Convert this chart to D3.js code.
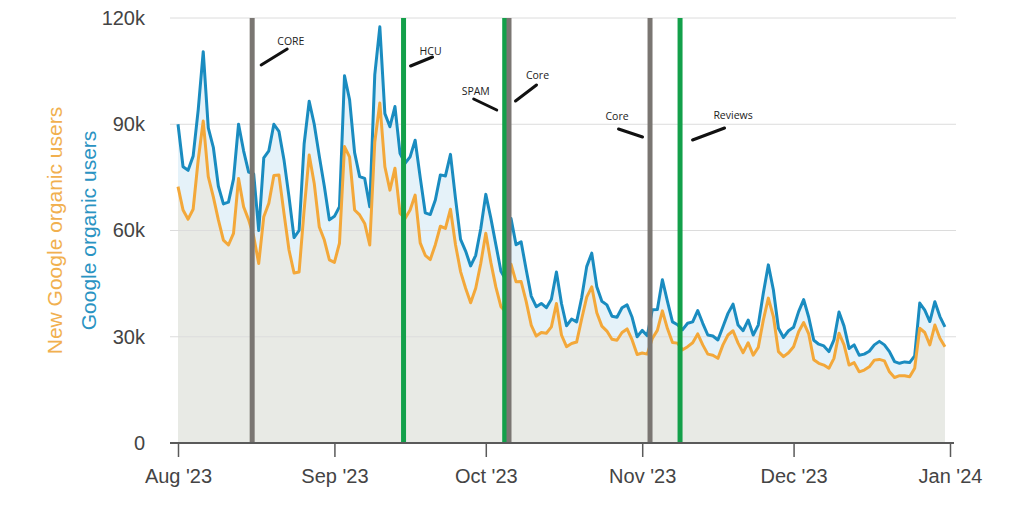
<!DOCTYPE html>
<html>
<head>
<meta charset="utf-8">
<script src="https://cdn.jsdelivr.net/npm/d3@7"></script>
<style>
  html, body { margin: 0; padding: 0; background: #fff; }
  svg { display: block; }
</style>
</head>
<body>
<svg id="chart" width="1024" height="512"></svg>
<script>
// ---------- DATA ----------
const startDate = Date.UTC(2023, 7, 1);   // Aug 1 2023
const endDate = Date.UTC(2024, 0, 1);     // Jan 1 2024

// Google organic users (daily, Aug 1 – Dec 31 2023)
const googleOrganicUsers = [
  90000, 78000, 77000, 81000, 94000, 110500, 89000, 83500, 72500, 67500,
  68000, 74500, 90000, 82500, 76500, 76000, 60000, 80500, 82500, 90000,
  88000, 80000, 69500, 58000, 60000, 84500, 96500, 90000, 81000, 72500,
  63000, 64000, 66700, 103700, 97000, 82000, 75200, 74700, 66700, 104000,
  117500, 93000, 89300, 95000, 81800, 79000, 80800, 85500, 75000, 65000,
  64500, 68600, 75700, 75400, 81500, 69000, 57500, 54200, 50000, 53000,
  60500, 70200, 63500, 56000, 48500, 46000, 63400, 56000, 56800, 49000,
  41500, 38500, 39400, 38200, 40600, 48300, 39400, 33100, 35000, 34200,
  41000, 49800, 53600, 44100, 40000, 39000, 35800, 35500, 38200, 39000,
  35500, 30000, 31800, 30300, 37600, 37700, 46100, 40000, 34200, 33400,
  32000, 33800, 34200, 37400, 33800, 30500, 30200, 29100, 32800, 36600,
  39200, 33300, 31700, 34700, 30500, 33300, 42300, 50300, 43200, 32400,
  29800, 31700, 32700, 37100, 40500, 35500, 29000, 27900, 27400, 25800,
  29100, 37000, 33000, 26700, 27700, 24800, 25100, 25900, 27700, 28700,
  27700, 25800, 23000, 22500, 22900, 22700, 24600, 39500, 37500, 34300,
  39900, 35700, 32800
];

// New Google organic users (daily, Aug 1 – Dec 31 2023)
const newGoogleOrganicUsers = [
  72400, 65800, 63200, 66000, 79900, 90900, 75200, 69500, 63000, 57300,
  55900, 59200, 74700, 66700, 63000, 58300, 50700, 63900, 67700, 75500,
  75700, 64900, 54500, 48000, 48300, 65800, 81300, 73300, 61000, 57300,
  51700, 51000, 56400, 83700, 80800, 65800, 64400, 62000, 55900, 85000,
  96000, 78000, 71400, 77600, 64900, 63400, 65800, 70000, 56500, 53000,
  51800, 56000, 61200, 60600, 66000, 56000, 48400, 43700, 39600, 43700,
  50700, 59200, 51000, 44000, 38500, 37000, 50500, 45500, 45600, 40000,
  33300, 30200, 31200, 31000, 32800, 39400, 30500, 27200, 28100, 28500,
  35000, 41200, 44100, 36800, 33000, 31600, 29300, 29000, 31200, 32200,
  29100, 25000, 25400, 25100, 29500, 31800, 37300, 32300, 28400, 28200,
  26300, 27200, 28300, 30800, 27700, 25100, 24800, 23900, 27700, 30500,
  31700, 28200, 25500, 28300, 24800, 27000, 34700, 40900, 35700, 25800,
  24400, 25500, 27200, 31400, 34000, 30800, 23500, 22500, 22000, 21100,
  23900, 31000, 27700, 22000, 22700, 20100, 20600, 21500, 23400, 23600,
  23200, 20100, 18500, 19000, 19000, 18700, 21100, 32400, 31200, 27700,
  33300, 29600, 27200
];

const yTickValues = [0, 30000, 60000, 90000, 120000];
const yTickLabels = ["0", "30k", "60k", "90k", "120k"];
const xTickDates = [
  Date.UTC(2023, 7, 1), Date.UTC(2023, 8, 1), Date.UTC(2023, 9, 1),
  Date.UTC(2023, 10, 1), Date.UTC(2023, 11, 1), Date.UTC(2024, 0, 1)
];
const xTickLabels = ["Aug '23", "Sep '23", "Oct '23", "Nov '23", "Dec '23", "Jan '24"];

// Algorithm update markers (position in days after Aug 1)
const updateLabels = ["CORE", "HCU", "SPAM", "Core", "Core", "Reviews"];
const updateDays = [14.7, 44.7, 64.75, 65.6, 93.55, 99.5];
const updateKinds = ["core", "green", "green", "core", "core", "green"];

// ---------- LAYOUT / STYLE ----------
const W = 1024, H = 512;
const xRange = [178, 950];
const yRange = [443, 18];
const gridX = [170, 956];
const colors = {
  blue: "#1a8cc0", orange: "#f3a83a",
  blueArea: "#e5f2f9", orangeArea: "#e8eae5",
  grid: "#dcdcdc", axis: "#5a5a5a", text: "#444",
  core: "#7a7672", green: "#13a04a",
  titleOrange: "#f1b04f", titleBlue: "#2a93c2"
};
// label layout relative to each marker line: text centre dx, text baseline y, stroke dx1,y1,dx2,y2
const labelLayout = [
  { tdx: 38.7, ty: 45, x1: 9, y1: 65, x2: 35, y2: 49 },
  { tdx: 27, ty: 55, x1: 7, y1: 66, x2: 29, y2: 57 },
  { tdx: -29, ty: 94.5, x1: -31, y1: 99, x2: -8, y2: 110 },
  { tdx: 28.5, ty: 79, x1: 6.5, y1: 101, x2: 27.5, y2: 85 },
  { tdx: -33, ty: 120, x1: -31.5, y1: 129, x2: -7.5, y2: 137 },
  { tdx: 53, ty: 119, x1: 12.5, y1: 140, x2: 44.5, y2: 128 }
];

// ---------- BUILD ----------
const dates = d3.utcDay.range(new Date(startDate), new Date(Date.UTC(2024, 0, 1)));
const rows = dates.map((d, i) => ({
  date: d,
  total: googleOrganicUsers[i],
  fresh: newGoogleOrganicUsers[i]
}));

const svg = d3.select("#chart");
const x = d3.scaleUtc().domain([new Date(startDate), new Date(endDate)]).range(xRange);
const y = d3.scaleLinear().domain([0, 120000]).range(yRange);

const areaTotal = d3.area().x(d => x(d.date)).y0(y(0)).y1(d => y(d.total));
const areaFresh = d3.area().x(d => x(d.date)).y0(y(0)).y1(d => y(d.fresh));
const lineTotal = d3.line().x(d => x(d.date)).y(d => y(d.total));
const lineFresh = d3.line().x(d => x(d.date)).y(d => y(d.fresh));

svg.append("path").datum(rows).attr("d", areaTotal).attr("fill", colors.blueArea);
svg.append("path").datum(rows).attr("d", areaFresh).attr("fill", colors.orangeArea);

// gridlines
svg.append("g").selectAll("line")
  .data(yTickValues.filter(v => v > 0))
  .join("line")
  .attr("x1", gridX[0]).attr("x2", gridX[1])
  .attr("y1", d => y(d)).attr("y2", d => y(d))
  .attr("stroke", colors.grid).attr("stroke-width", 1);

// data lines
svg.append("path").datum(rows).attr("d", lineTotal)
  .attr("fill", "none").attr("stroke", colors.blue).attr("stroke-width", 3)
  .attr("stroke-linejoin", "round");
svg.append("path").datum(rows).attr("d", lineFresh)
  .attr("fill", "none").attr("stroke", colors.orange).attr("stroke-width", 3)
  .attr("stroke-linejoin", "round");

// update marker lines
const markerX = updateDays.map(dd => x(new Date(startDate + dd * 864e5)));
svg.append("g").selectAll("line")
  .data(updateDays)
  .join("line")
  .attr("x1", (d, i) => markerX[i]).attr("x2", (d, i) => markerX[i])
  .attr("y1", y(120000)).attr("y2", y(0))
  .attr("stroke", (d, i) => updateKinds[i] === "core" ? colors.core : colors.green)
  .attr("stroke-width", 5);

// axes
const xAxis = d3.axisBottom(x)
  .tickValues(xTickDates.map(t => new Date(t)))
  .tickFormat((d, i) => xTickLabels[i])
  .tickSize(14).tickSizeOuter(0).tickPadding(12);
const gx = svg.append("g").attr("transform", `translate(0,${y(0)})`).call(xAxis);
gx.select(".domain").remove();
gx.selectAll(".tick line").attr("stroke", colors.axis).attr("stroke-width", 1.5);
gx.selectAll(".tick text")
  .attr("fill", colors.text)
  .style("font-family", "'Liberation Sans', Arial, sans-serif")
  .style("font-size", "20px");
svg.append("line")
  .attr("x1", gridX[0]).attr("x2", gridX[1] - 2)
  .attr("y1", y(0)).attr("y2", y(0))
  .attr("stroke", colors.axis).attr("stroke-width", 2);

const yAxis = d3.axisLeft(y)
  .tickValues(yTickValues)
  .tickFormat((d, i) => yTickLabels[i])
  .tickSize(0).tickPadding(0);
const gy = svg.append("g").attr("transform", `translate(145,0)`).call(yAxis);
gy.select(".domain").remove();
gy.selectAll(".tick text")
  .attr("fill", colors.text)
  .style("font-family", "'Liberation Sans', Arial, sans-serif")
  .style("font-size", "20px");

// axis titles
const midY = (yRange[0] + yRange[1]) / 2;
svg.append("text")
  .attr("transform", `translate(55,${midY}) rotate(-90)`)
  .attr("text-anchor", "middle").attr("dy", "0.35em")
  .attr("fill", colors.titleOrange)
  .style("font-family", "'Liberation Sans', Arial, sans-serif")
  .style("font-size", "21px")
  .text("New Google organic users");
svg.append("text")
  .attr("transform", `translate(89,${midY}) rotate(-90)`)
  .attr("text-anchor", "middle").attr("dy", "0.35em")
  .attr("fill", colors.titleBlue)
  .style("font-family", "'Liberation Sans', Arial, sans-serif")
  .style("font-size", "21px")
  .text("Google organic users");

// annotation labels + pointer strokes
const ann = svg.append("g");
updateLabels.forEach((lab, i) => {
  const L = labelLayout[i], mx = markerX[i];
  ann.append("line")
    .attr("x1", mx + L.x1).attr("y1", L.y1)
    .attr("x2", mx + L.x2).attr("y2", L.y2)
    .attr("stroke", "#111").attr("stroke-width", 3).attr("stroke-linecap", "round");
  ann.append("text")
    .attr("x", mx + L.tdx).attr("y", L.ty)
    .attr("text-anchor", "middle")
    .attr("fill", "#222")
    .style("font-family", "'Open Sans', 'Noto Sans', sans-serif")
    .style("font-size", "10.5px")
    .text(lab);
});
</script>
</body>
</html>
